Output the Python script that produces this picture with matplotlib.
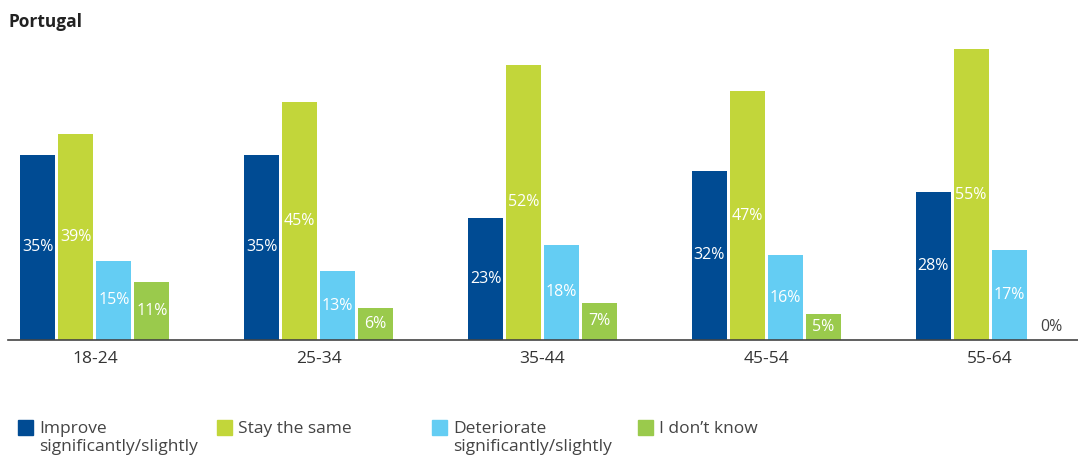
import numpy as np
import matplotlib.pyplot as plt
from matplotlib.patches import Rectangle

plt.rcParams['font.family'] = ['Open Sans', 'DejaVu Sans']

age_groups = ['18-24', '25-34', '35-44', '45-54', '55-64']
series_names = ['Improve\nsignificantly/slightly', 'Stay the same',
                'Deteriorate\nsignificantly/slightly', 'I don\u2019t know']
improve = [35, 35, 23, 32, 28]
same = [39, 45, 52, 47, 55]
deteriorate = [15, 13, 18, 16, 17]
dont_know = [11, 6, 7, 5, 0]
colors = ['#004b93', '#c2d63a', '#64cdf3', '#9aca4c']

W, H = 1078, 457
fig = plt.figure(figsize=(W / 100, H / 100), dpi=100)
ax = fig.add_axes([8 / W, (H - 340) / H, 1070 / W, 300 / H])

x = np.arange(len(age_groups))
pitch = 38 / 224
width = 35 / 224
all_series = [improve, same, deteriorate, dont_know]
for i, (vals, c) in enumerate(zip(all_series, colors)):
    pos = x + (i - 1.5) * pitch
    ax.bar(pos, vals, width=width, color=c, zorder=2)
    for xp, v in zip(pos, vals):
        if v > 0:
            ax.text(xp, v / 2, f'{v}%', ha='center', va='center',
                    color='white', fontsize=11.5)
        else:
            ax.text(xp + 0.02, 1.0, f'{v}%', ha='center', va='bottom',
                    color='#444444', fontsize=11.5)

ax.set_xlim(-0.388, 4.393)
ax.set_ylim(0, 300 / 5.29)
ax.set_xticks(x)
ax.set_xticklabels(age_groups, fontsize=12.5, color='#333333')
ax.tick_params(axis='x', length=0, pad=8)
ax.set_yticks([])
for s in ['top', 'right', 'left']:
    ax.spines[s].set_visible(False)
ax.spines['bottom'].set_color('#444444')
ax.spines['bottom'].set_linewidth(1.2)

fig.text(8 / W, 1 - 22 / H, 'Portugal', fontsize=12.5, fontweight='bold',
         color='#222222', va='center')

# legend along the bottom
leg_x = [18, 217, 432, 638]
for lx, name, c in zip(leg_x, series_names, colors):
    fig.patches.append(Rectangle((lx / W, 1 - 435 / H), 15 / W, 15 / H,
                                 transform=fig.transFigure, color=c))
    fig.text((lx + 21) / W, 1 - 421 / H, name, fontsize=12.5, color='#444444',
             va='top', linespacing=1.15)

fig.savefig('out.png', dpi=100)
